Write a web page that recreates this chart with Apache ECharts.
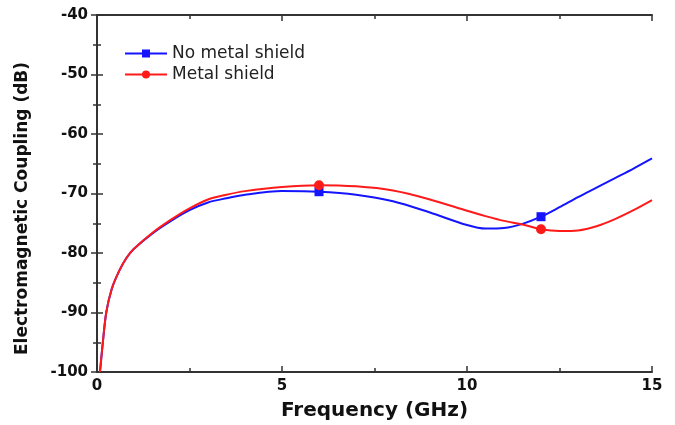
<!DOCTYPE html>
<html>
<head>
<meta charset="utf-8">
<script src="https://cdn.jsdelivr.net/npm/echarts@6/dist/echarts.min.js"></script>
<style>
  html, body { margin: 0; padding: 0; background: #fff; }
  #chart { width: 675px; height: 425px; }
</style>
</head>
<body>
<div id="chart"></div>
<script>
const freq = [0.08, 0.15, 0.25, 0.4, 0.6, 0.8, 1.0, 1.5, 2, 2.5, 3, 3.5, 4, 5, 6, 7, 8, 9, 10, 10.5, 11, 11.5, 12, 12.5, 13, 13.5, 14, 14.5, 15];
const noShield = [-100, -95.5, -90.0, -86.0, -83.0, -80.8, -79.3, -76.7, -74.6, -72.8, -71.5, -70.8, -70.2, -69.6, -69.7, -70.2, -71.3, -73.2, -75.3, -75.9, -75.8, -75.1, -73.9, -72.3, -70.6, -69.0, -67.4, -65.8, -64.1];
const withShield = [-100, -95.5, -90.0, -86.0, -83.0, -80.8, -79.3, -76.6, -74.4, -72.5, -71.0, -70.2, -69.6, -68.9, -68.6, -68.8, -69.5, -71.0, -72.9, -73.8, -74.6, -75.2, -76.0, -76.3, -76.2, -75.5, -74.3, -72.8, -71.1];
const markerFreqs = [6, 12];

const font = '"DejaVu Sans", Arial, sans-serif';
const axisColor = '#333';

function pts(vals) {
    return freq.map((f, i) => [f, vals[i]]);
}
// only the points at 6 and 12 GHz get a visible marker
const markSize = (size) => (v) => markerFreqs.includes(v[0]) ? size : 0;

const tick = { inside: true, length: 6, lineStyle: { color: axisColor, width: 1.5 } };
const minor = { show: true, splitNumber: 2, length: 4, lineStyle: { color: axisColor, width: 1.5 } };
const line = { lineStyle: { color: axisColor, width: 2 } };
const label = { fontFamily: font, fontSize: 15, fontWeight: 'bold', color: '#111' };

const chart = echarts.init(document.getElementById('chart'));
chart.setOption({
    animation: false,
    grid: { left: 97, right: 23, top: 15, bottom: 53, outerBoundsMode: 'none', containLabel: false },
    legend: {
        left: 119, top: 40, orient: 'vertical',
        itemWidth: 42, itemHeight: 10, itemGap: 4,
        textStyle: { fontFamily: font, fontSize: 17, color: '#222' },
        data: ['No metal shield', 'Metal shield']
    },
    xAxis: [{
        type: 'value', min: 0, max: 15, interval: 5,
        name: 'Frequency (GHz)', nameLocation: 'middle', nameGap: 29,
        nameTextStyle: { fontFamily: font, fontSize: 20, fontWeight: 'bold', color: '#111' },
        axisLine: line, axisTick: tick, minorTick: minor,
        axisLabel: Object.assign({ margin: 7 }, label),
        splitLine: { show: false }
    }, {
        type: 'value', min: 0, max: 15, interval: 5, position: 'top',
        axisLine: line, axisTick: tick, minorTick: minor,
        axisLabel: { show: false }, splitLine: { show: false }
    }],
    yAxis: [{
        type: 'value', min: -100, max: -40, interval: 10,
        name: 'Electromagnetic Coupling (dB)', nameLocation: 'middle', nameGap: 66, nameRotate: 90,
        nameTextStyle: { fontFamily: font, fontSize: 17, fontWeight: 'bold', color: '#111', padding: [0, 30, 0, 0] },
        axisLine: line, axisTick: tick, minorTick: minor,
        axisLabel: Object.assign({ margin: 9 }, label),
        splitLine: { show: false }
    }, {
        type: 'value', min: -100, max: -40, interval: 10, position: 'right',
        axisLine: line, axisTick: tick, minorTick: minor,
        axisLabel: { show: false }, splitLine: { show: false }
    }],
    series: [{
        name: 'No metal shield', type: 'line',
        data: pts(noShield),
        smooth: 0.3,
        symbol: 'rect', symbolSize: markSize(9), showAllSymbol: true,
        color: '#1414ff',
        lineStyle: { width: 2, color: '#1414ff' },
        itemStyle: { color: '#1414ff' },
        z: 2
    }, {
        name: 'Metal shield', type: 'line',
        data: pts(withShield),
        smooth: 0.3,
        symbol: 'circle', symbolSize: markSize(10), showAllSymbol: true,
        color: '#ff1a1a',
        lineStyle: { width: 2, color: '#ff1a1a' },
        itemStyle: { color: '#ff1a1a' },
        z: 3
    }]
});
</script>
</body>
</html>
